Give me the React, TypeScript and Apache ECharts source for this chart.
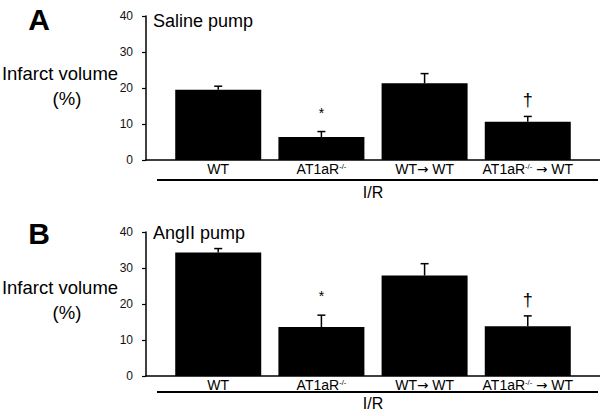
import React, { useEffect, useRef } from "react";
import * as echarts from "echarts";

const categories = ["WT", "AT1aR-/-", "WT→ WT", "AT1aR-/- → WT"];
const positions = [0, 1, 2, 3];
const salineMeans = [19.5, 6.4, 21.3, 10.6];
const salineErrors = [1.0, 1.5, 2.7, 1.5];
const angMeans = [34.3, 13.6, 27.9, 13.8];
const angErrors = [1.1, 3.3, 3.3, 2.9];
const markers = ["", "*", "", "†"];
const yTicks = [0, 10, 20, 30, 40];

const FONT = "'Liberation Sans', Arial, sans-serif";

const labelRich: Record<string, string> = {
  "WT": "{n|WT}",
  "AT1aR-/-": "{n|AT1aR}{s|-/-}",
  "WT→ WT": "{n|WT}{a|→}{n| WT}",
  "AT1aR-/- → WT": "{n|AT1aR}{s|-/-}{n| }{a|→}{n| WT}",
};

function makeX(gridIndex: number) {
  return {
    type: "value",
    gridIndex,
    min: -0.7,
    max: 3.7,
    splitLine: { show: false },
    axisTick: { show: false },
    axisLine: { show: true, onZero: false, lineStyle: { color: "#000", width: 1.5 } },
    axisLabel: {
      customValues: positions,
      margin: 2,
      formatter: (v: number) => labelRich[categories[Math.round(v)]] ?? "",
      rich: {
        n: { fontFamily: FONT, fontSize: 14, color: "#000" },
        a: { fontFamily: "'DejaVu Sans', sans-serif", fontSize: 13.5, color: "#000" },
        s: { fontFamily: FONT, fontSize: 7.5, color: "#000", verticalAlign: "top", padding: [0, 0, 6, 0] },
      },
    },
  };
}

function makeY(gridIndex: number) {
  return {
    type: "value",
    gridIndex,
    min: yTicks[0],
    max: yTicks[yTicks.length - 1],
    interval: 10,
    splitLine: { show: false },
    axisLine: { show: true, onZero: false, lineStyle: { color: "#000", width: 1.5 } },
    axisTick: { show: true, length: 4, lineStyle: { color: "#000", width: 1.2 } },
    axisLabel: { margin: 13, fontFamily: FONT, fontSize: 12, color: "#111" },
  };
}

function errSeries(idx: number, means: number[], errs: number[]) {
  return {
    type: "custom",
    xAxisIndex: idx,
    yAxisIndex: idx,
    z: 5,
    data: positions.map((p, i) => [p, means[i], errs[i]]),
    renderItem: (params: any, api: any) => {
      const x = api.value(0);
      const m = api.value(1);
      const e = api.value(2);
      const p0 = api.coord([x, m]);
      const p1 = api.coord([x, m + e]);
      const mk = markers[params.dataIndex];
      const children: any[] = [
        { type: "line", shape: { x1: p0[0], y1: p0[1], x2: p1[0], y2: p1[1] }, style: { stroke: "#000", lineWidth: 1.5 } },
        { type: "line", shape: { x1: p1[0] - 4, y1: p1[1], x2: p1[0] + 4, y2: p1[1] }, style: { stroke: "#000", lineWidth: 1.5 } },
      ];
      if (mk) {
        const isStar = mk === "*";
        children.push({
          type: "text",
          style: {
            text: mk,
            x: p1[0],
            y: p1[1] - (isStar ? 19 : 16),
            textAlign: "center",
            textVerticalAlign: "middle",
            fontFamily: FONT,
            fontSize: isStar ? 14 : 18,
            fill: "#000",
          },
        });
      }
      return { type: "group", children };
    },
  };
}

function barSeries(idx: number, means: number[]) {
  return {
    type: "bar",
    xAxisIndex: idx,
    yAxisIndex: idx,
    barWidth: 86,
    itemStyle: { color: "#000" },
    data: positions.map((p, i) => [p, means[i]]),
  };
}

function txt(x: number, y: number, text: string, fontSize: number, bold = false, align = "center") {
  return {
    type: "text",
    x,
    y,
    style: {
      text,
      fontFamily: FONT,
      fontSize,
      fontWeight: bold ? "bold" : "normal",
      fill: "#000",
      textAlign: align,
      textVerticalAlign: "middle",
    },
  };
}

export default function App() {
  const ref = useRef<HTMLDivElement>(null);
  useEffect(() => {
    if (!ref.current) return;
    const chart = echarts.init(ref.current, undefined, { renderer: "svg" });
    chart.setOption({
      animation: false,
      grid: [
        { left: 146, top: 16, width: 454, height: 144 },
        { left: 146, top: 232, width: 454, height: 144 },
      ],
      xAxis: [makeX(0), makeX(1)],
      yAxis: [makeY(0), makeY(1)],
      series: [
        barSeries(0, salineMeans),
        errSeries(0, salineMeans, salineErrors),
        barSeries(1, angMeans),
        errSeries(1, angMeans, angErrors),
      ],
      graphic: [
        txt(39, 19, "A", 30, true),
        txt(39, 233, "B", 30, true),
        txt(153, 21, "Saline pump", 18, false, "left"),
        txt(153, 233, "AngII pump", 18, false, "left"),
        txt(60, 73, "Infarct volume", 18.5),
        txt(67, 98, "(%)", 18.5),
        txt(60, 287, "Infarct volume", 18.5),
        txt(67, 312, "(%)", 18.5),
        txt(373, 192, "I/R", 16),
        txt(373, 403, "I/R", 16),
        { type: "line", shape: { x1: 157, y1: 180, x2: 598, y2: 180 }, style: { stroke: "#000", lineWidth: 1.8 } },
        { type: "line", shape: { x1: 157, y1: 392, x2: 598, y2: 392 }, style: { stroke: "#000", lineWidth: 1.8 } },
      ],
    });
    return () => chart.dispose();
  }, []);
  return (
    <div
      ref={ref}
      style={{ position: "fixed", left: 0, top: 0, width: 600, height: 416, background: "#fff" }}
    />
  );
}
